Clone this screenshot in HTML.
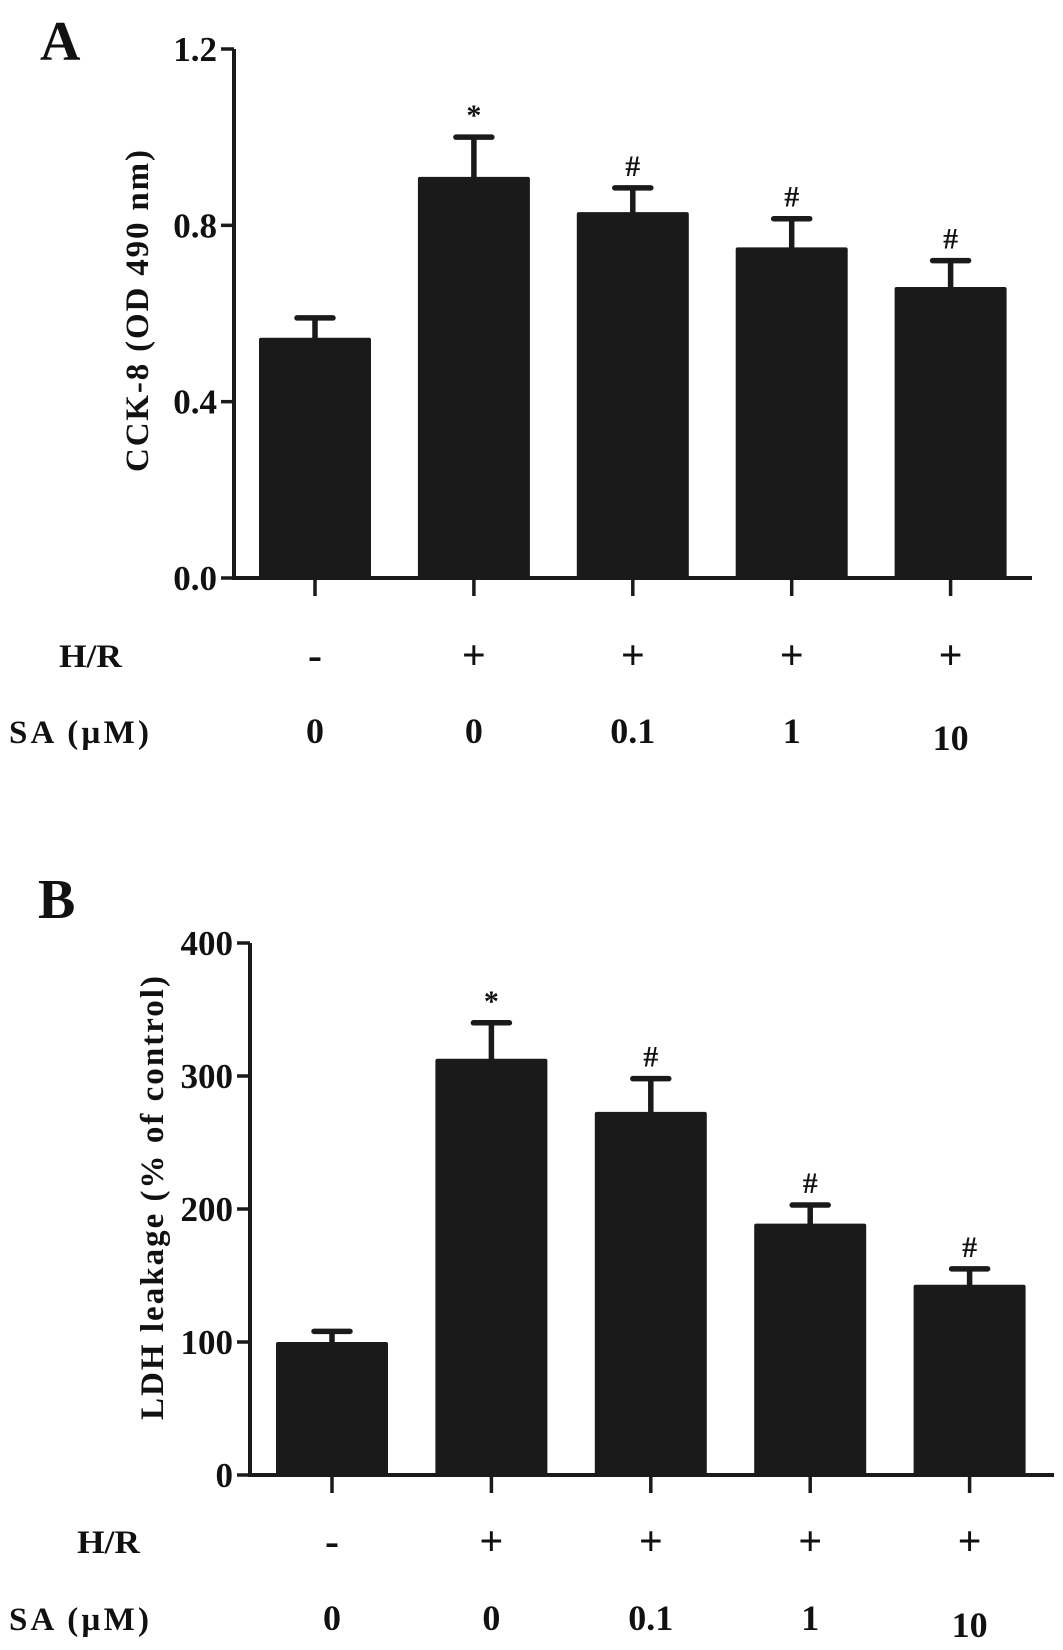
<!DOCTYPE html>
<html><head><meta charset="utf-8"><style>
html,body{margin:0;padding:0;background:#fff}
svg{display:block}
text{font-family:"Liberation Serif",serif;font-weight:bold;fill:#111}
</style></head><body>
<svg id="fig" width="1063" height="1650" viewBox="0 0 1063 1650"></svg>
<script>
const categories = ["-/0", "+/0", "+/0.1", "+/1", "+/10"];
const hrLabels = ["-", "+", "+", "+", "+"];
const saLabels = ["0", "0", "0.1", "1", "10"];
const cckValues = [0.545, 0.91, 0.83, 0.75, 0.66];
const cckErrTops = [0.59, 1.0, 0.885, 0.815, 0.72];
const cckMarks = ["", "*", "#", "#", "#"];
const cckTicks = [0.0, 0.4, 0.8, 1.2];
const cckTickLabels = ["0.0", "0.4", "0.8", "1.2"];
const ldhValues = [100, 313, 273, 189, 143];
const ldhErrTops = [108, 340, 298, 203, 155];
const ldhMarks = ["", "*", "#", "#", "#"];
const ldhTicks = [0, 100, 200, 300, 400];
const ldhTickLabels = ["0", "100", "200", "300", "400"];

const NS = "http://www.w3.org/2000/svg";
const svg = document.getElementById("fig");
function mk(tag, attrs, parent, txt) {
  const e = document.createElementNS(NS, tag);
  for (const k in attrs) e.setAttribute(k, attrs[k]);
  if (txt !== undefined) e.textContent = txt;
  (parent || svg).appendChild(e);
  return e;
}

function drawChart(cfg) {
  const g = mk("g", {});
  
  
  const y = v => cfg.y0 - (v - cfg.vmin) / (cfg.vmax - cfg.vmin) * (cfg.y0 - cfg.y1);
  const x = i => cfg.c0 + i * cfg.step;
  const lbl = mk("text", {x: cfg.lx, y: cfg.ly, "font-size": 56}, g, cfg.letter);
  
  
  categories.forEach((c, i) => {
    const bx = x(i) - cfg.bw / 2;
    const eb = mk("path", {d: `M${x(i)} ${y(cfg.vals[i])} V${y(cfg.errs[i])} M${x(i)-18} ${y(cfg.errs[i])} H${x(i)+18}`, stroke: "#1a1a1a", "stroke-width": 5.5, "stroke-linecap": "round", fill: "none"}, g);
    
    
    const r = mk("rect", {x: bx, y: y(cfg.vals[i]), width: cfg.bw, height: y(cfg.vmin) - y(cfg.vals[i]), fill: "#1a1a1a", rx: 2}, g);
    
    
    if (cfg.marks[i]) {
      const m = mk("text", {x: x(i), y: y(cfg.errs[i]) - 12, "font-size": 30, "text-anchor": "middle"}, g, cfg.marks[i]);
      
      
    }
    const t = mk("line", {x1: x(i), x2: x(i), y1: cfg.y0, y2: cfg.y0 + 18, stroke: "#1a1a1a", "stroke-width": 3.5}, g);
    
    
    const h = mk("text", {x: x(i), y: cfg.hrY + 2, "font-size": 42, "text-anchor": "middle", "font-weight": "normal"}, g, hrLabels[i]);
    
    
    const s = mk("text", {x: x(i), y: cfg.saY + (i === 4 ? 7 : 0), "font-size": 36, "text-anchor": "middle"}, g, saLabels[i]);
    
    
  });
  const ax = mk("path", {d: `M${cfg.ax} ${cfg.y1} V${cfg.y0} H${cfg.xend}`, stroke: "#1a1a1a", "stroke-width": 4, fill: "none"}, g);
  
  
  cfg.ticks.forEach((v, i) => {
    const t = mk("line", {x1: cfg.ax - 13, x2: cfg.ax, y1: y(v), y2: y(v), stroke: "#1a1a1a", "stroke-width": 3.5}, g);
    
    
    const tl = mk("text", {x: cfg.ax - 17, y: y(v) + 12, "font-size": 35, "text-anchor": "end"}, g, cfg.tickLabels[i]);
    
    
  });
  const yt = mk("text", {x: 0, y: 0, "font-size": 33, "text-anchor": "middle", textLength: cfg.tlen, lengthAdjust: "spacing", transform: `translate(${cfg.tx},${cfg.tc}) rotate(-90)`}, g, cfg.title);
  
  
  const hr = mk("text", {x: cfg.hrX, y: cfg.hrY, "font-size": 33, textLength: 63, lengthAdjust: "spacingAndGlyphs"}, g, "H/R");
  
  
  const sa = mk("text", {x: 9, y: cfg.saY, "font-size": 33, textLength: 140, lengthAdjust: "spacing"}, g, "SA  (\u00b5M)");
  
  
}

drawChart({name: "chart-a-cck8", letter: "A", lx: 40, ly: 60, vals: cckValues, errs: cckErrTops, marks: cckMarks,
  ticks: cckTicks, tickLabels: cckTickLabels, vmin: 0, vmax: 1.2, y0: 578, y1: 49, ax: 234, xend: 1032,
  c0: 315, step: 158.9, bw: 112, title: "CCK-8 (OD 490 nm)", tlen: 322, tx: 148, tc: 311, hrX: 59, hrY: 667, saY: 743});
drawChart({name: "chart-b-ldh", letter: "B", lx: 38, ly: 918, vals: ldhValues, errs: ldhErrTops, marks: ldhMarks,
  ticks: ldhTicks, tickLabels: ldhTickLabels, vmin: 0, vmax: 400, y0: 1475, y1: 943, ax: 250, xend: 1054,
  c0: 332, step: 159.4, bw: 112, title: "LDH leakage (% of control)", tlen: 444, tx: 163, tc: 1198, hrX: 77, hrY: 1553, saY: 1630});
</script>
</body></html>
